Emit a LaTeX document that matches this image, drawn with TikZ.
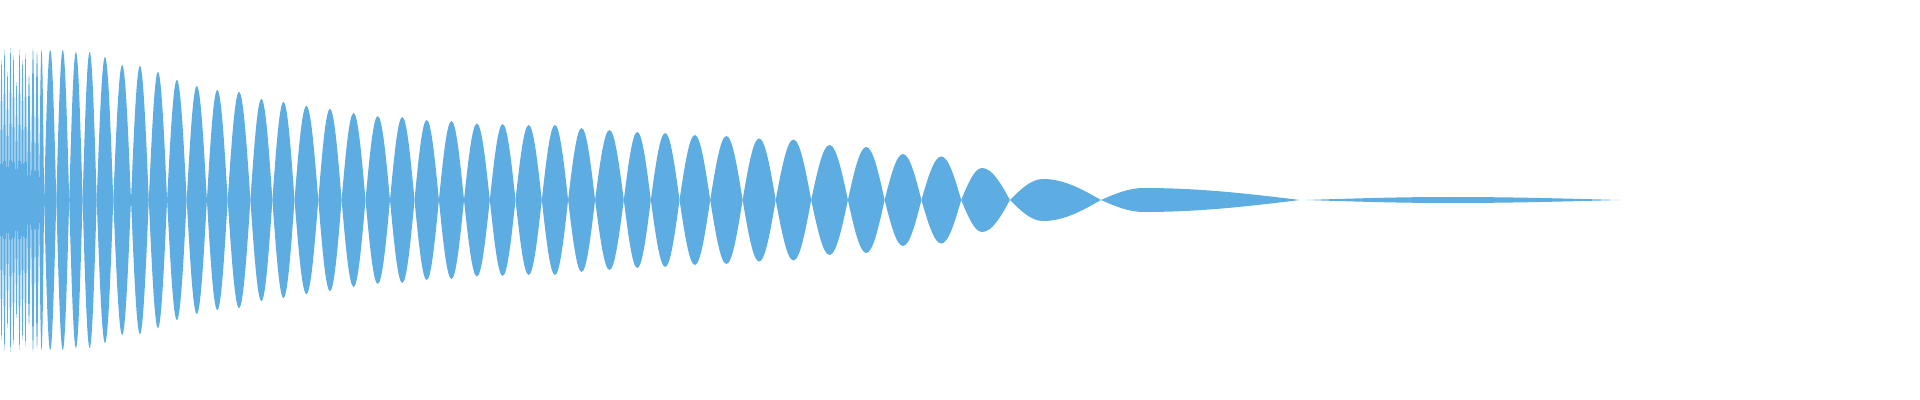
\documentclass[tikz,border=0pt]{standalone}
\definecolor{wavecol}{RGB}{93,173,226}
\tikzset{lobe/.style={fill=wavecol}}
\begin{document}
\begin{tikzpicture}[x=0.05cm,y=0.05cm]
\useasboundingbox (0,-200) rectangle (1920,200);
%% dense start
\foreach \a/\b/\h in {0/3/140,3/6/150,6/9/128,9/12/152,12/15/145,15/18/118,18/21/150,
  21/24/140,24/27/146,27/31/125,31/35/152,35/39/148,39/44.1/150}
  \fill[lobe] (\a,0) sin ({(\a+\b)/2},\h) cos (\b,0) sin ({(\a+\b)/2},-\h) cos (\a,0);
%% regular lobes
\foreach \a/\b/\h in {44.1/56.3/150,56.3/69.2/150,69.2/82.6/148,82.6/96.7/148,
  96.7/113.3/143,113.3/131/135,131/148.8/134,148.8/167.1/128,167.1/186.7/120,
  186.7/206.9/114,206.9/227.7/110,227.7/250.4/108,250.4/272.4/101,272.4/294.5/98,
  294.5/318.3/94,318.3/341.6/91,341.6/365.5/87,365.5/390/84,390/414.5/83,
  414.5/438.9/80,438.9/464/79,464/489.8/76.5,489.8/515.5/76,515.5/541.8/75,
  541.8/568.1/75,568.1/595.1/72,595.1/623.8/70,623.8/650.8/68,650.8/679.5/67,
  679.5/710.2/65,710.2/742.6/64,742.6/775.7/61.6,775.7/811.2/60.5,811.2/847.9/55,
  847.9/884.6/53,884.6/921.4/46,921.4/961.2/43.5}
  \fill[lobe] (\a,0) sin ({(\a+\b)/2},\h) cos (\b,0) sin ({(\a+\b)/2},-\h) cos (\a,0);
%% slow tail
\foreach \a/\m/\b/\h in {961.2/982/1010/32,1010/1043/1101/21,1101/1144/1300/12,1306/1450/1619/3}
  \fill[lobe] (\a,0) sin (\m,\h) cos (\b,0) sin (\m,-\h) cos (\a,0);
\end{tikzpicture}
\end{document}
